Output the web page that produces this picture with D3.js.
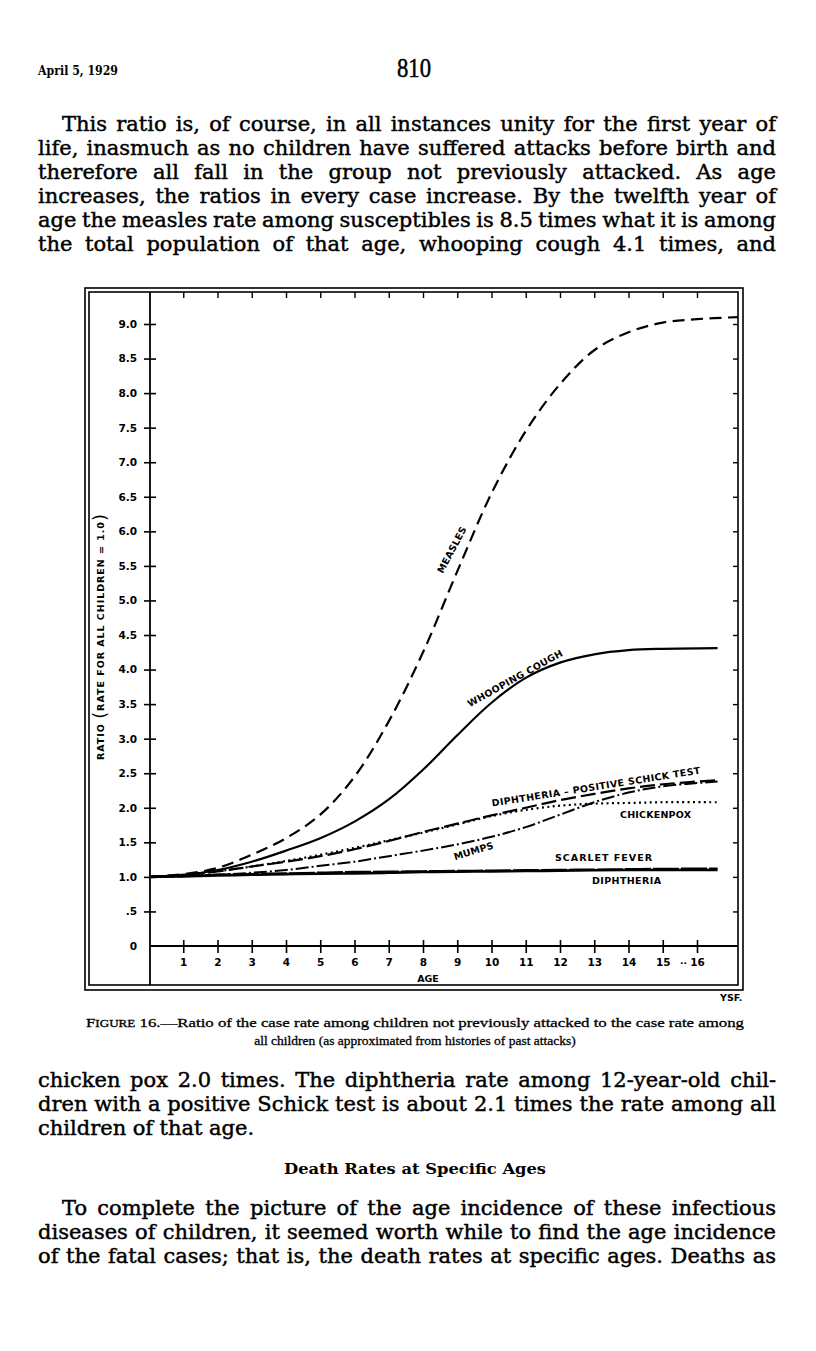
<!DOCTYPE html>
<html>
<head>
<meta charset="utf-8">
<script src="https://cdn.jsdelivr.net/npm/d3@7"></script>
<style>
  body { margin: 0; background: #fff; }
  svg { display: block; }
  .lab { font-family: "DejaVu Sans", sans-serif; font-weight: bold; font-size: 9.5px; fill: #000; }
  .tick text { font-family: "DejaVu Sans", sans-serif; font-weight: bold; font-size: 10.5px; fill: #000; }
</style>
</head>
<body>
<div id="page"></div>
<script>
// ratio values (age in years, ratio)
const ageMeasles = [0, 1, 2, 3, 4, 5, 6, 7, 8, 9, 10, 11, 12, 13, 14, 15, 16, 17.2];
const measles = [1.0, 1.04, 1.13, 1.32, 1.56, 1.9, 2.45, 3.25, 4.25, 5.42, 6.55, 7.45, 8.13, 8.62, 8.88, 9.02, 9.07, 9.1];

const ages = [0, 1, 2, 3, 4, 5, 6, 7, 8, 9, 10, 11, 12, 13, 14, 15, 16.6];
const whoopingCough = [1.0, 1.03, 1.1, 1.22, 1.38, 1.56, 1.8, 2.12, 2.55, 3.05, 3.52, 3.88, 4.1, 4.22, 4.28, 4.3, 4.31];
const schickPositive = [1.0, 1.03, 1.08, 1.15, 1.22, 1.3, 1.4, 1.52, 1.65, 1.77, 1.89, 2.0, 2.11, 2.2, 2.28, 2.34, 2.4];
const chickenpox = [1.0, 1.02, 1.08, 1.15, 1.23, 1.32, 1.42, 1.53, 1.64, 1.76, 1.88, 1.97, 2.03, 2.06, 2.07, 2.08, 2.08];
const mumps = [1.0, 1.01, 1.03, 1.06, 1.1, 1.16, 1.22, 1.3, 1.38, 1.47, 1.58, 1.72, 1.9, 2.08, 2.22, 2.31, 2.38];
const scarletFever = [1.0, 1.01, 1.03, 1.04, 1.05, 1.06, 1.07, 1.075, 1.08, 1.085, 1.09, 1.095, 1.1, 1.105, 1.11, 1.115, 1.12];
const diphtheria = [1.0, 1.01, 1.02, 1.03, 1.04, 1.045, 1.05, 1.06, 1.07, 1.075, 1.08, 1.085, 1.09, 1.095, 1.1, 1.1, 1.1];

const yTicks = [0, 0.5, 1, 1.5, 2, 2.5, 3, 3.5, 4, 4.5, 5, 5.5, 6, 6.5, 7, 7.5, 8, 8.5, 9];
const yTickLabels = ["0", ".5", "1.0", "1.5", "2.0", "2.5", "3.0", "3.5", "4.0", "4.5", "5.0", "5.5", "6.0", "6.5", "7.0", "7.5", "8.0", "8.5", "9.0"];
const xTicks = [1, 2, 3, 4, 5, 6, 7, 8, 9, 10, 11, 12, 13, 14, 15, 16];

const para1 = [
  "This ratio is, of course, in all instances unity for the first year of",
  "life, inasmuch as no children have suffered attacks before birth and",
  "therefore all fall in the group not previously attacked. As age",
  "increases, the ratios in every case increase. By the twelfth year of",
  "age the measles rate among susceptibles is 8.5 times what it is among",
  "the total population of that age, whooping cough 4.1 times, and"
];
const para2 = [
  "chicken pox 2.0 times. The diphtheria rate among 12-year-old chil-",
  "dren with a positive Schick test is about 2.1 times the rate among all",
  "children of that age."
];
const para3 = [
  "To complete the picture of the age incidence of these infectious",
  "diseases of children, it seemed worth while to find the age incidence",
  "of the fatal cases; that is, the death rates at specific ages. Deaths as"
];

const W = 816, H = 1351;
const svg = d3.select("#page").append("svg").attr("width", W).attr("height", H);

// ---- page text ----
svg.append("text").attr("x", 38).attr("y", 75)
  .attr("font-family", "DejaVu Serif").attr("font-weight", "bold").attr("font-size", 12.5)
  .attr("textLength", 80).attr("lengthAdjust", "spacingAndGlyphs").text("April 5, 1929");
svg.append("text").attr("x", 397).attr("y", 77)
  .attr("font-family", "Liberation Serif").attr("font-size", 27).attr("stroke", "#000").attr("stroke-width", 0.5)
  .attr("textLength", 34).attr("lengthAdjust", "spacingAndGlyphs").text("810");

function setLine(str, x0, x1, y, justified) {
  const words = str.split(" ");
  const nodes = words.map(w => svg.append("text")
    .attr("font-family", "DejaVu Serif").attr("font-size", 21)
    .attr("fill", "#000").attr("stroke", "#000").attr("stroke-width", 0.45)
    .attr("y", y).text(w));
  const widths = nodes.map(n => n.node().getComputedTextLength());
  let gap = justified && words.length > 1 ? (x1 - x0 - d3.sum(widths)) / (words.length - 1) : 6.5;
  let scale = 1;
  if (gap < 4) { // too long: squeeze words a little
    gap = 4;
    scale = (x1 - x0 - gap * (words.length - 1)) / d3.sum(widths);
  }
  let x = x0;
  nodes.forEach((n, i) => {
    const w = widths[i] * scale;
    if (scale !== 1) n.attr("textLength", w).attr("lengthAdjust", "spacingAndGlyphs");
    n.attr("x", x); x += w + gap;
  });
}
para1.forEach((l, i) => setLine(l, i === 0 ? 62 : 38, 776, 131 + i * 24, true));
para2.forEach((l, i) => setLine(l, 38, 776, 1087 + i * 24, i < para2.length - 1));
para3.forEach((l, i) => setLine(l, i === 0 ? 62 : 38, 776, 1215 + i * 24, true));

svg.append("text").attr("x", 415).attr("y", 1174).attr("text-anchor", "middle")
  .attr("font-family", "DejaVu Serif").attr("font-weight", "bold").attr("font-size", 15)
  .attr("textLength", 262).attr("lengthAdjust", "spacingAndGlyphs").text("Death Rates at Specific Ages");

const cap1 = svg.append("text").attr("x", 86).attr("y", 1027)
  .attr("font-family", "Liberation Serif").attr("font-size", 13.5).attr("stroke", "#000").attr("stroke-width", 0.3)
  .attr("textLength", 658).attr("lengthAdjust", "spacingAndGlyphs");
cap1.append("tspan").text("F");
cap1.append("tspan").attr("font-size", 10.5).text("IGURE");
cap1.append("tspan").text(" 16.—Ratio of the case rate among children not previously attacked to the case rate among");
svg.append("text").attr("x", 415).attr("y", 1045).attr("text-anchor", "middle")
  .attr("font-family", "Liberation Serif").attr("font-size", 13.5).attr("stroke", "#000").attr("stroke-width", 0.3)
  .text("all children (as approximated from histories of past attacks)");

// ---- chart ----
const x = d3.scaleLinear().domain([0, 16]).range([149, 697]);
const y = d3.scaleLinear().domain([0, 9]).range([946, 324]);

// double frame
svg.append("rect").attr("x", 85).attr("y", 288).attr("width", 658).attr("height", 702)
  .attr("fill", "none").attr("stroke", "#000").attr("stroke-width", 1.6);
svg.append("rect").attr("x", 89).attr("y", 292).attr("width", 649).attr("height", 693)
  .attr("fill", "none").attr("stroke", "#000").attr("stroke-width", 1.6);

// y axis
const gy = svg.append("g").attr("transform", `translate(150,0)`)
  .call(d3.axisLeft(y).tickValues(yTicks).tickFormat((d, i) => yTickLabels[i]).tickSize(6).tickPadding(7));
gy.select(".domain").remove();
gy.selectAll(".tick line").attr("x1", 6).attr("stroke-width", 1.6);
gy.selectAll(".tick").filter(d => d === 0).select("line").remove();
svg.append("line").attr("x1", 150).attr("x2", 150).attr("y1", 292).attr("y2", 985)
  .attr("stroke", "#000").attr("stroke-width", 1.8);

// x axis
const gx = svg.append("g").attr("transform", `translate(0,946)`)
  .call(d3.axisBottom(x).tickValues(xTicks).tickFormat(d3.format("d")).tickSize(7).tickPadding(6));
gx.select(".domain").remove();
gx.selectAll(".tick line").attr("y1", -6).attr("stroke-width", 1.6);
svg.append("line").attr("x1", 150).attr("x2", 738).attr("y1", 946).attr("y2", 946)
  .attr("stroke", "#000").attr("stroke-width", 1.8);

// top and right ticks
const gt = svg.append("g").attr("transform", `translate(0,292)`)
  .call(d3.axisBottom(x).tickValues(xTicks).tickFormat("").tickSize(6));
gt.select(".domain").remove();
gt.selectAll(".tick line").attr("stroke-width", 1.4);
const gr = svg.append("g").attr("transform", `translate(738,0)`)
  .call(d3.axisLeft(y).tickValues(yTicks.filter(d => d > 0)).tickFormat("").tickSize(5));
gr.select(".domain").remove();
gr.selectAll(".tick line").attr("stroke-width", 1.4);

svg.append("text").attr("class", "lab").attr("x", 428).attr("y", 982).attr("text-anchor", "middle").text("AGE");
svg.append("text").attr("class", "lab").attr("x", 680).attr("y", 966).attr("font-size", 8).text("··");

// y axis title
const yt = svg.append("text").attr("class", "lab")
  .attr("transform", "translate(104,637) rotate(-90)").attr("text-anchor", "middle")
  .attr("font-size", 10).attr("textLength", 246).attr("lengthAdjust", "spacing");
yt.append("tspan").text("RATIO ");
yt.append("tspan").attr("font-size", 18).attr("font-weight", "normal").attr("dy", 2).text("(");
yt.append("tspan").attr("dy", -2).text("RATE FOR ALL CHILDREN = 1.0");
yt.append("tspan").attr("font-size", 18).attr("font-weight", "normal").attr("dy", 2).text(")");

const line = d3.line().x(d => x(d[0])).y(d => y(d[1])).curve(d3.curveCatmullRom.alpha(0.5));
const zipA = (xs, ys) => xs.map((a, i) => [a, ys[i]]);

const series = [
  { vals: zipA(ages, diphtheria), w: 2.6, dash: null },
  { vals: zipA(ages, scarletFever), w: 2.4, dash: "26,2" },
  { vals: zipA(ages, mumps), w: 2, dash: "13,3,2,3" },
  { vals: zipA(ages, chickenpox), w: 2.2, dash: "2,3.4" },
  { vals: zipA(ages, schickPositive), w: 2.2, dash: "15,5" },
  { vals: zipA(ages, whoopingCough), w: 2.2, dash: null },
  { vals: zipA(ageMeasles, measles), w: 2.2, dash: "12,6.5" }
];
svg.selectAll("path.series").data(series).enter().append("path")
  .attr("class", "series")
  .attr("d", d => line(d.vals))
  .attr("fill", "none").attr("stroke", "#000")
  .attr("stroke-width", d => d.w)
  .attr("stroke-dasharray", d => d.dash);

// curve labels
function label(txt, px, py, rot, len) {
  const t = svg.append("text").attr("class", "lab").attr("text-anchor", "middle")
    .attr("transform", `translate(${px},${py}) rotate(${rot})`).attr("letter-spacing", 1).text(txt);
  if (len) t.attr("textLength", len).attr("lengthAdjust", "spacing");
}
label("MEASLES", 455, 551, -62, 52);
label("WHOOPING COUGH", 517, 681, -29, 108);
label("DIPHTHERIA – POSITIVE SCHICK TEST", 597, 790, -9, 212);
label("CHICKENPOX", 656, 818, 0, 72);
label("MUMPS", 475, 854, -17, 42);
label("SCARLET FEVER", 604, 861, 0, 98);
label("DIPHTHERIA", 627, 884, 0, 70);

svg.append("text").attr("class", "lab").attr("x", 720).attr("y", 1001).attr("font-size", 8).text("YSF.");
</script>
</body>
</html>
